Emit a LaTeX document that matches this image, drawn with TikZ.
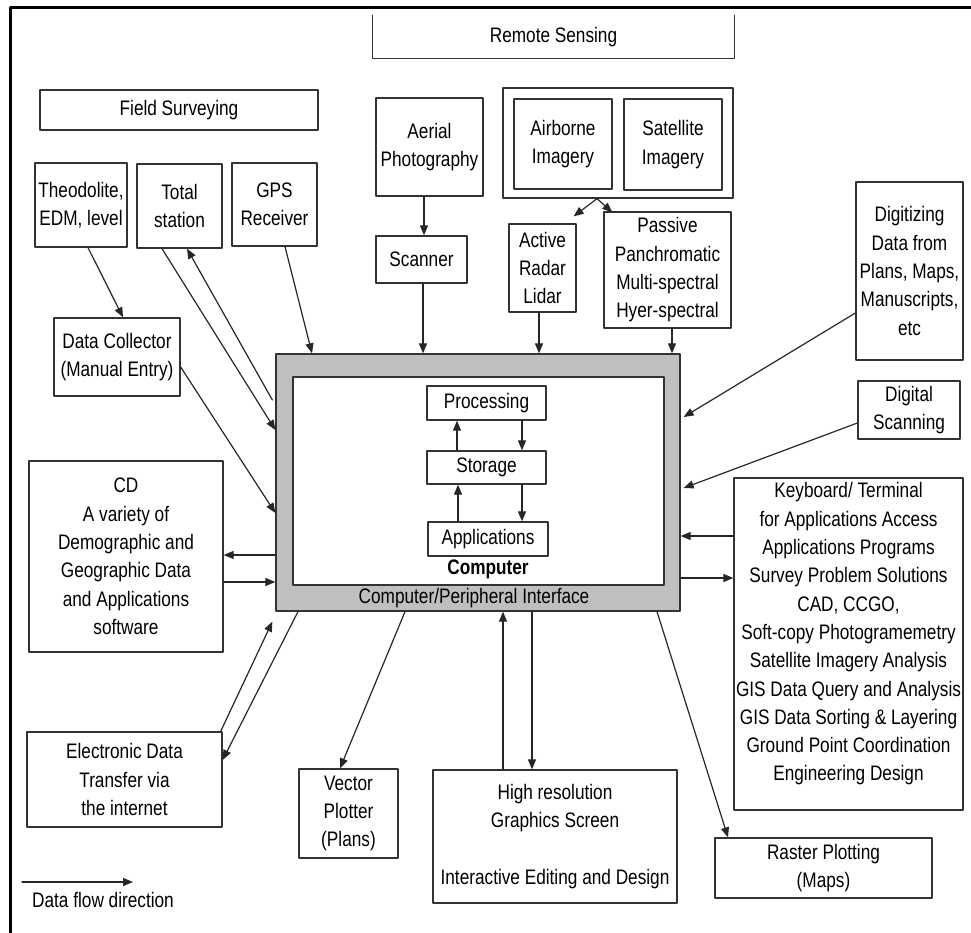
\documentclass[tikz,border=0pt]{standalone}
\usepackage{fontspec}
\setmainfont{Liberation Sans}[FakeStretch=0.82]
\usetikzlibrary{arrows.meta}

\begin{document}
\begin{tikzpicture}[x=1pt,y=-1pt,line cap=round,line join=round,
    box/.style={draw=black!80,line width=1.3pt,inner sep=0pt,align=center,
      font=\fontsize{21}{28.3}\selectfont},
    txt/.style={inner sep=0pt,align=center,font=\fontsize{21}{28.3}\selectfont},
    flow/.style={draw=black!85,line width=1.2pt,-{Triangle[length=10pt,width=8pt]}}]
    \useasboundingbox (0,0) rectangle (971,933);
    % frame
    \draw [line width=3pt] (10.5,933) -- (10.5,7.5) -- (971,7.5);
    % remote sensing
    \node [txt,minimum width=361,minimum height=43] (remote) at (553.5,37) {Remote Sensing};
    \draw [draw=black!80,line width=1.3pt] (remote.north west) |- (remote.south east) -- (remote.north east);
    \node [box,minimum width=230,minimum height=110] (imagery) at (618,143) {};
    \node [box,minimum width=98,minimum height=90] (airborne) at (563,144) {Airborne\\Imagery};
    \node [box,minimum width=98,minimum height=91] (satellite) at (673,144.5) {Satellite\\Imagery};
    \node [box,minimum width=67,minimum height=88] (active) at (542.5,268) {Active\\Radar\\Lidar};
    \node [box,minimum width=127,minimum height=116] (passive) at (667.5,270) {Passive\\Panchromatic\\Multi-spectral\\Hyer-spectral};
    \node [box,minimum width=107,minimum height=98] (aerial) at (429.5,147) {Aerial\\Photography};
    \node [box,minimum width=91,minimum height=47] (scanner) at (421.5,259.5) {Scanner};
    % field surveying
    \node [box,minimum width=278,minimum height=40] (field) at (179,110) {Field Surveying};
    \node [box,minimum width=92,minimum height=84] (theo) at (81,205) {Theodolite,\\EDM, level};
    \node [box,minimum width=85,minimum height=84] (total) at (179.5,206) {Total\\station};
    \node [box,minimum width=85,minimum height=83] (gps) at (274.5,204.5) {GPS\\Receiver};
    \node [box,minimum width=126,minimum height=78] (collector) at (117,357) {Data Collector\\(Manual Entry)};
    % computer
    \node [box,fill=black!25,minimum width=404,minimum height=257] (comp) at (478,482.5) {};
    \node [box,fill=white,minimum width=371,minimum height=208] (core) at (478.5,481) {};
    \node [box,minimum width=119,minimum height=34] (proc) at (486.5,403) {Processing};
    \node [box,minimum width=119,minimum height=33] (store) at (486.5,467.5) {Storage};
    \node [box,minimum width=120,minimum height=34] (apps) at (488,539) {Applications};
    \node [txt,font=\fontsize{21}{28.3}\selectfont\bfseries] (comptitle) at (488,569) {Computer};
    \node [txt] (iface) at (474,598) {Computer/Peripheral Interface};
    % other inputs and outputs
    \node [box,minimum width=107,minimum height=178] (digitize) at (909.5,271) {Digitizing\\Data from\\Plans, Maps,\\Manuscripts,\\etc};
    \node [box,minimum width=102,minimum height=58] (digscan) at (909,410) {Digital\\Scanning};
    \node [box,minimum width=229,minimum height=332] (keyboard) at (848.5,644) {};
    \node [txt] (kbtext) at (848.5,634) {Keyboard/ Terminal\\for Applications Access\\Applications Programs\\Survey Problem Solutions\\CAD, CCGO,\\Soft-copy Photogramemetry\\Satellite Imagery Analysis\\GIS Data Query and Analysis\\GIS Data Sorting \& Layering\\Ground Point Coordination\\Engineering Design};
    \node [box,minimum width=194,minimum height=191] (cd) at (126,556.5) {CD\\A variety of\\Demographic and\\Geographic Data\\and Applications\\software};
    \node [box,minimum width=195,minimum height=95] (edt) at (124.5,779.5) {Electronic Data\\Transfer via\\the internet};
    \node [box,minimum width=99,minimum height=89] (vector) at (348.5,813.5) {Vector\\Plotter\\(Plans)};
    \node [box,minimum width=244,minimum height=133] (screen) at (555,836.5) {High resolution\\Graphics Screen\\[28.3pt]Interactive Editing and Design};
    \node [box,minimum width=217,minimum height=60] (raster) at (823.5,868) {Raster Plotting\\(Maps)};
    % arrows
    \draw [flow] ([xshift=-5.5pt]aerial.south) -- ([xshift=2.5pt]scanner.north);
    \draw [flow] ([xshift=1.5pt]scanner.south) -- ([xshift=-55pt]comp.north);
    \draw [flow] ([xshift=-21pt]imagery.south) -- ([xshift=-3pt,yshift=7pt]active.north east);
    \draw [flow] ([xshift=-21pt]imagery.south) -- ([xshift=9pt,yshift=-1pt]passive.north west);
    \draw [flow] ([xshift=-3.5pt]active.south) -- ([xshift=61pt]comp.north);
    \draw [flow] ([xshift=4.5pt]passive.south) -- ([xshift=194pt]comp.north);
    \draw [flow] ([yshift=-42pt]digitize.west) -- ([xshift=3pt,yshift=65.5pt]comp.east);
    \draw [flow] ([yshift=-13pt]digscan.west) -- ([xshift=3pt,yshift=-5.5pt]comp.east);
    \draw [flow] ([yshift=108pt]keyboard.west) -- ([yshift=-53.5pt]comp.east);
    \draw [flow] ([yshift=-95.5pt]comp.east) -- ([yshift=66pt]keyboard.west);
    \draw [flow] ([xshift=7pt]theo.south) -- ([xshift=6pt]collector.north);
    \draw [flow] ([xshift=-17.5pt]total.south) -- ([yshift=52.5pt]comp.west);
    \draw [flow] ([xshift=-3pt,yshift=82.5pt]comp.west) -- ([xshift=7.5pt]total.south);
    \draw [flow] ([xshift=10.5pt]gps.south) -- ([xshift=-166pt]comp.north);
    \draw [flow] ([yshift=-10pt]collector.east) -- ([yshift=-30.5pt]comp.west);
    \draw [flow] ([yshift=-72.5pt]comp.west) -- ([yshift=1.5pt]cd.east);
    \draw [flow] ([yshift=-25.5pt]cd.east) -- ([yshift=-99.5pt]comp.west);
    \draw [flow] ([xshift=-2pt]edt.north east) -- ([xshift=-3pt,yshift=-10pt]comp.south west);
    \draw [flow] ([xshift=-180pt]comp.south) -- ([yshift=19.5pt]edt.east);
    \draw [flow] ([xshift=-73pt]comp.south) -- ([xshift=-8.5pt]vector.north);
    \draw [flow] ([xshift=-52pt]screen.north) -- ([xshift=25pt]comp.south);
    \draw [flow] ([xshift=54pt]comp.south) -- ([xshift=-23pt]screen.north);
    \draw [flow] ([xshift=179pt]comp.south) -- ([xshift=-95.5pt]raster.north);
    \draw [flow] ([xshift=-29.5pt]store.north) -- ([xshift=-29.5pt]proc.south);
    \draw [flow] ([xshift=35.5pt]proc.south) -- ([xshift=35.5pt]store.north);
    \draw [flow] ([xshift=-30pt]apps.north) -- ([xshift=-28.5pt]store.south);
    \draw [flow] ([xshift=35.5pt]store.south) -- ([xshift=34pt]apps.north);
    % legend
    \coordinate (legA) at (22,882);
    \coordinate (legB) at (133,882);
    \draw [flow] (legA) -- (legB);
    \node [txt,anchor=west] (legend) at (32,900) {Data flow direction};
\end{tikzpicture}
\end{document}
